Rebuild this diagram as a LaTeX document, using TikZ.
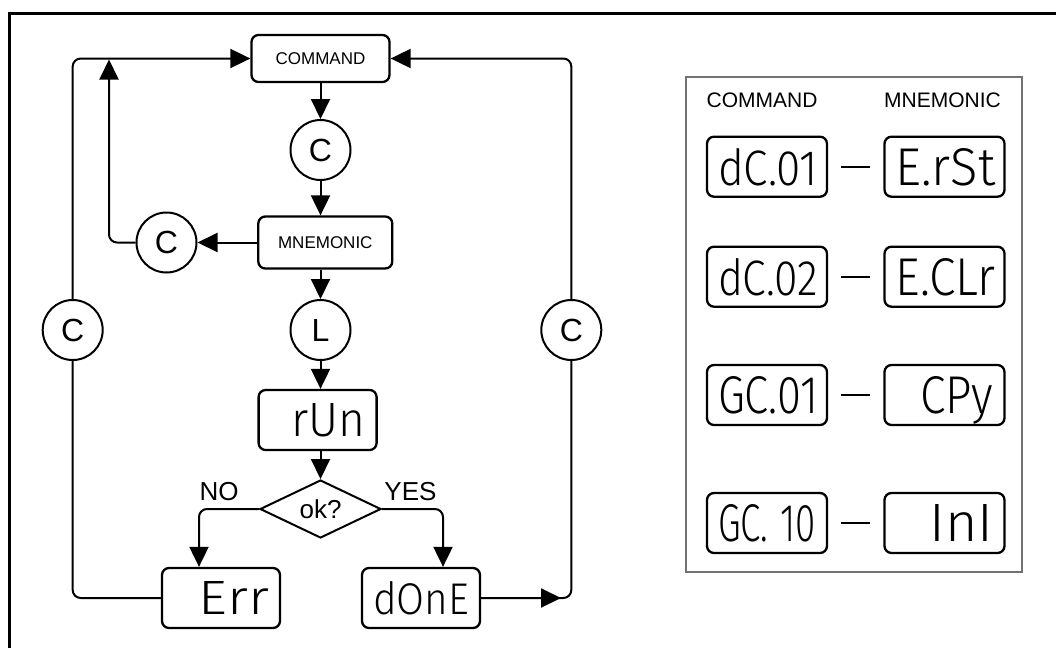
\documentclass[tikz,border=0pt]{standalone}
\usepackage{fontspec}
\setmainfont{Liberation Sans}
\newfontfamily\segfont{Fira Sans Light}
\usepackage{graphicx}
\usetikzlibrary{shapes.geometric,arrows.meta,positioning,calc}
\newcommand{\segtext}[3]{\resizebox{#1}{#2}{\segfont #3}}

\begin{document}
\begin{tikzpicture}[x=1pt, y=-1pt,
    every node/.style={font=\fontsize{17}{20}\selectfont},
    conn/.style={line width=2pt},
    arr/.style={conn, -{Triangle[length=20pt,width=19pt]}},
    box/.style={draw, line width=2.3pt, rounded corners=7pt, inner sep=0pt},
    disc/.style={draw, circle, line width=2pt, minimum size=60pt, inner sep=0pt,
                 font=\fontsize{32}{32}\selectfont},
    disp/.style={box, minimum height=60pt, text width=96pt, inner xsep=11pt,
                 align=right, text height=33pt, text depth=0pt},
    pdisp/.style={disp, text width=98pt, text height=37pt},
    big/.style={font=\fontsize{26}{26}\selectfont}]

    \useasboundingbox (0,0) rectangle (1056,648);

    % frame
    \draw[line width=3pt] (9.5,648) -- (9.5,13) -- (1056,13);

    % flow chart
    \node[box, minimum width=138pt, minimum height=47pt] (command) at (320.5,58.5) {COMMAND};
    \node[disc] (c1) at (320.5,150) {C};
    \node[box, minimum width=134pt, minimum height=52pt] (mnemonic) at (325.3,242.5) {MNEMONIC};
    \node[disc] (c2) at (166.5,242.5) {C};
    \node[disc] (load) at (320.5,330) {L};
    \node[disp] (run) at (317.6,420) {\segtext{74pt}{33pt}{rUn}};
    \node[draw, diamond, aspect=2, line width=2pt, minimum width=121pt, minimum height=58pt,
          inner sep=0pt, font=\fontsize{26}{26}\selectfont] (ok) at (320.5,509) {ok?};
    \node[disp] (err) at (221,598) {\segtext{70pt}{33pt}{Err}};
    \node[disp] (done) at (421,598) {\segtext{96pt}{33pt}{dOnE}};
    \node[disc] (cl) at (72.7,330) {C};
    \node[disc] (cr) at (571.3,330) {C};
    \node[big] (no) at (219,492) {NO};
    \node[big] (yes) at (410.5,492) {YES};

    \coordinate (upTip) at (109,59.5);
    \coordinate (doneTip) at (561,598);

    \draw[arr] (command) -- (c1);
    \draw[arr] (c1.south) -- (c1.south |- mnemonic.north);
    \draw[arr] (mnemonic.west) -- (c2.east);
    \draw[arr, rounded corners=8pt] (c2.west) -| (upTip);
    \draw[arr, rounded corners=8pt] (cl.north) |- (command.west);
    \draw[arr, rounded corners=8pt] (cr.north) |- (command.east);
    \draw[arr] (load.north |- mnemonic.south) -- (load.north);
    \draw[arr] (load.south) -- (load.south |- run.north);
    \draw[arr] (ok.north |- run.south) -- (ok.north);
    \draw[arr, rounded corners=8pt] (ok.west) -| ([xshift=-22pt]err.north);
    \draw[arr, rounded corners=8pt] (ok.east) -| ([xshift=22pt]done.north);
    \draw[conn, rounded corners=8pt] (err.west) -| (cl.south);
    \draw[conn, rounded corners=8pt] (done.east) -| (cr.south);
    \draw[arr] (done.east) -- (doneTip);

    % command / mnemonic table
    \draw[black!55, line width=1.2pt] (686,77) rectangle (1022,572);
    \node[font=\fontsize{21}{24}\selectfont] (hcmd) at (762,100.5) {COMMAND};
    \node[font=\fontsize{21}{24}\selectfont] (hmne) at (942.5,100.5) {MNEMONIC};

    \foreach \y/\ctxt/\cw/\mtxt/\mw [count=\i] in {166.7/dC.01/100/E.rSt/100,
                                                  276.7/dC.02/100/E.CLr/100,
                                                  395/GC.01/100/CPy/73,
                                                  523/GC. 10/98/InI/64}{
        \node[pdisp] (pc\i) at (767,\y) {\segtext{\cw pt}{37pt}{\ctxt}};
        \node[pdisp] (pm\i) at (944.5,\y) {\segtext{\mw pt}{37pt}{\mtxt}};
        \draw[conn, shorten <=13pt, shorten >=13pt] (pc\i.east) -- (pm\i.west);
    }

\end{tikzpicture}
\end{document}
